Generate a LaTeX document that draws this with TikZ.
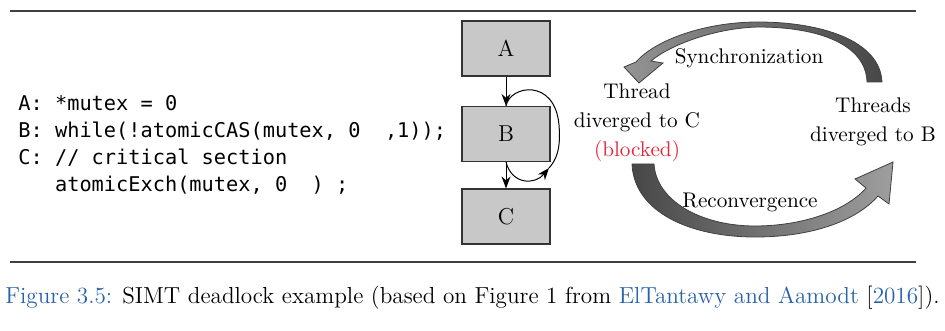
\documentclass[tikz,border=0pt]{standalone}
\usepackage{fontspec}
\usepackage{xcolor}
\usetikzlibrary{positioning, arrows.meta}
\newfontfamily\codefont{DejaVu Sans Mono}
\definecolor{blockred}{RGB}{228, 38, 56}
\definecolor{citeblue}{RGB}{40, 98, 168}
\definecolor{boxgray}{RGB}{200, 200, 200}

\begin{document}
\begin{tikzpicture}[x=0.5pt, y=-0.5pt,
  blk/.style={draw=black!80, line width=0.6pt, fill=boxgray, minimum width=44pt,
    minimum height=27.5pt, inner sep=0pt, font=\fontsize{11.5}{13}\selectfont},
  flow/.style={-{Stealth[length=6pt, width=4.5pt]}, line width=0.5pt},
  lbl/.style={font=\fontsize{10.6}{14.5}\selectfont, align=center, inner sep=0pt},
  bigarrow/.style={draw=black!75, line width=0.4pt},
  rulebar/.style={draw=black!75, line width=0.75pt}]
  \useasboundingbox (0,0) rectangle (945,331);

  % Rules
  \draw[rulebar] (10,11) -- (916,11);
  \draw[rulebar] (10,262) -- (916,262);

  % Code
  \node[anchor=west, align=left, inner sep=0pt, font=\codefont\fontsize{10.15}{13.5}\selectfont] (code) at (18,145)
    {A:~*mutex~=~0\\B:~while(!atomicCAS(mutex,~0~~,1));\\C:~//~critical~section\\\phantom{C:~}atomicExch(mutex,~0~~)~;};

  % Blocks
  \node[blk] (A) at (506,48.5) {A};
  \node[blk] (B) at (506,134) {B};
  \node[blk] (C) at (506,216.5) {C};
  \draw[flow] (A) -- (B);
  \draw[flow] (B) -- (C);

  % Loop on B
  \coordinate (loopend) at (549,168);
  \draw[line width=0.5pt] (B.north) .. controls (510,85) and (555,78) .. (559,125)
    .. controls (561,150) and (556,160) .. (loopend);
  \draw[flow] (B.south) .. controls (512,185) and (535,185) .. (loopend);

  % Thread states
  \node[lbl] (thrC) at (637,123) {Thread\\diverged to C\\\textcolor{blockred}{(blocked)}};
  \node[lbl] (thrB) at (873,122) {Threads\\diverged to B};

  % Curved arrows
  \path[bigarrow, left color=black!42, right color=black!72]
    (882,82) .. controls (880,40) and (820,22) .. (758,22) .. controls (705,22) and (655,40) .. (636,62)
    -- (624,67) -- (639,83) -- (663,63) -- (651,61)
    .. controls (670,45) and (715,28) .. (758,27) .. controls (820,27) and (866,45) .. (867,82) -- cycle;
  \path[bigarrow, left color=black!72, right color=black!38]
    (632,164) .. controls (634,212) and (690,237) .. (755,237) .. controls (810,237) and (855,222) .. (878,196)
    -- (889,204) -- (893,162) -- (855,179) -- (866,188)
    .. controls (845,212) and (800,226) .. (755,226) .. controls (700,226) and (656,200) .. (654,164) -- cycle;
  \node[lbl] (sync) at (749,58) {Synchronization};
  \node[lbl] (reconv) at (750,202) {Reconvergence};

  % Caption
  \node[font=\fontsize{11.6}{13}\selectfont, inner sep=0pt] (cap) at (472.5,298)
    {\textcolor{citeblue}{Figure 3.5:} SIMT deadlock example (based on Figure 1 from \textcolor{citeblue}{ElTantawy and Aamodt} [\textcolor{citeblue}{2016}]).};
\end{tikzpicture}
\end{document}
